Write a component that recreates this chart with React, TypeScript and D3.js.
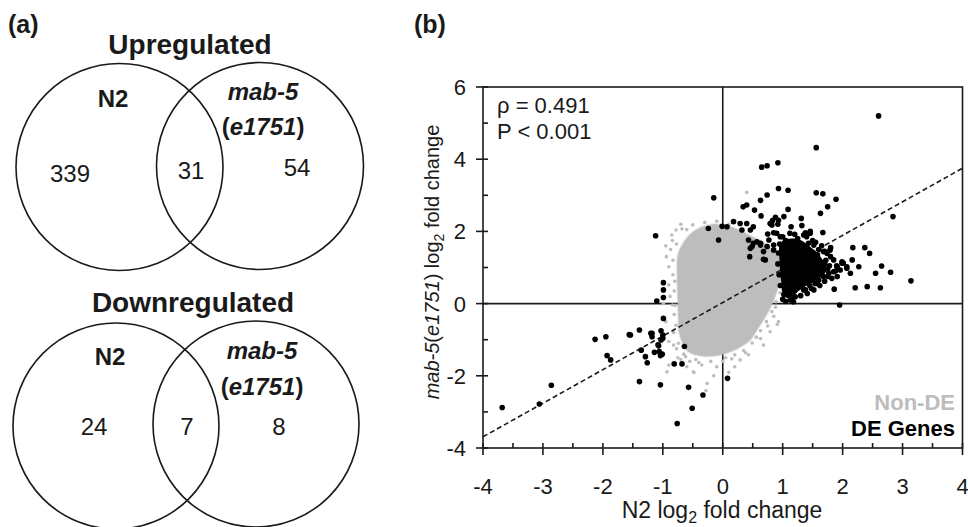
import React from "react";
import * as d3 from "d3";

// ---------- DATA ----------
const vennTitles = ["Upregulated", "Downregulated"];
const n2Only = [339, 24];
const sharedCounts = [31, 7];
const mabOnly = [54, 8];

const xTickValues = [-4, -3, -2, -1, 0, 1, 2, 3, 4];
const yTickValues = [-4, -2, 0, 2, 4, 6];
const rhoText = "ρ = 0.491";
const pText = "P < 0.001";
const legendLabels = ["Non-DE", "DE Genes"];

// regression line end points [x, y]
const regression: number[][] = [[-4, -3.69], [4, 3.75]];

// outline of the dense, solid part of the Non-DE cloud
const nonDeCore: number[][] = [
  [-0.15, 2.2], [0.13, 2.13], [0.46, 1.88], [0.74, 1.62], [0.96, 1.3], [0.99, 0.84], [0.91, 0.38],
  [0.8, -0.09], [0.68, -0.45], [0.57, -0.73], [0.46, -1.0], [0.29, -1.2], [0.07, -1.37],
  [-0.26, -1.46], [-0.58, -1.32], [-0.72, -0.85], [-0.74, -0.36], [-0.75, 0.19], [-0.76, 0.84],
  [-0.74, 1.39], [-0.58, 1.85], [-0.38, 2.1],
];

// Non-DE points outside the solid part
const nonDeGenes: number[][] = [
  [-0.78, 2.04], [-0.87, 1.5], [-0.84, 1.75], [-0.94, 1.3], [-0.68, 2.07], [-0.5, 2.18], [-0.3, 2.25],
  [-0.1, 2.28], [0.1, 2.2], [-0.9, 1.02], [-0.83, 0.8], [-0.9, 0.52], [-0.88, 0.2], [-0.84, -0.04],
  [-0.81, -0.3], [-0.95, -0.5], [-0.82, -0.8], [-0.9, -1.05], [-0.77, -1.25], [-0.9, -1.7],
  [-0.93, -1.89], [-0.75, -1.5], [-0.65, -1.4], [-0.49, -1.89], [-0.26, -2.21], [-0.28, -2.41],
  [-0.48, -1.91], [-0.55, -1.6], [-0.35, -1.7], [-0.1, -1.75], [-0.45, -1.55], [-0.2, -1.6],
  [0.0, -1.6], [0.29, -1.56], [0.1, -1.9], [-0.15, -2.0], [0.43, -1.42], [0.2, -1.42], [0.35, -1.3],
  [0.68, -1.15], [0.79, -0.78], [0.93, -0.5], [0.91, -0.58], [0.56, -0.93], [0.73, -0.5], [0.82, -0.22],
  [0.63, -0.75], [0.49, -1.09], [0.89, 0.05], [0.96, 0.3], [0.4, 3.08], [-0.95, 1.6], [-0.7, -1.55],
  [0.15, -1.53], [-0.6, -1.75], [0.2, -1.75], [0.85, -0.35], [-0.99, 0.0], [-0.7, 2.2],
  [-0.62, -1.47], [-0.4, -1.63], [0.05, -1.5], [0.38, -1.36], [0.63, -0.97], [0.75, -0.62],
  [0.88, -0.1], [0.99, 0.55], [-0.83, 1.2], [-0.81, 0.35], [-0.78, -0.6], [-0.82, -1.15], [-0.6, 2.05],
  [0.3, 2.05], [-0.85, 1.9], [-0.74, -1.1], [-0.8, 0.62], [-0.79, -0.05], [-0.77, 1.65],
];

// outline of the solid black cluster of DE genes
const deCore: number[][] = [
  [0.97, 1.7], [1.22, 1.8], [1.48, 1.55], [1.64, 1.28], [1.74, 0.95], [1.6, 0.68], [1.4, 0.5],
  [1.24, 0.32], [1.12, 0.14], [1.02, 0.22], [0.98, 0.55], [0.95, 1.1],
];

// DE genes (individual points)
const deGenes: number[][] = [
  [2.6, 5.2], [1.56, 4.32], [0.65, 3.78], [0.74, 3.82], [0.92, 3.9], [0.93, 3.19], [1.09, 3.14],
  [1.56, 3.07], [1.67, 3.04], [1.89, 2.89], [0.74, 3.01], [0.63, 2.86], [0.4, 2.73], [0.34, 2.68],
  [0.53, 2.59], [1.75, 2.68], [1.63, 2.5], [1.09, 2.61], [0.64, 2.43], [1.02, 2.41], [0.88, 2.39],
  [0.83, 2.3], [0.79, 2.22], [1.31, 2.36], [2.84, 2.41], [0.18, 2.27], [0.29, 2.22], [0.4, 2.22],
  [0.51, 2.13], [0.07, 2.13], [-0.01, 2.14], [0.92, 2.2], [1.14, 2.13], [1.32, 2.16], [1.38, 1.96],
  [1.46, 1.95], [1.67, 1.97], [0.75, 1.93], [0.85, 1.96], [2.17, 1.55], [2.37, 1.55], [2.45, 1.39],
  [2.65, 1.04], [0.45, 1.3], [0.68, 1.23], [2.63, 0.44], [2.41, 0.47], [2.21, 0.44], [1.86, 0.4],
  [2.8, 0.87], [2.55, 0.84], [2.27, 1.02], [2.16, 1.21], [2.07, 1.02], [2.01, 1.12], [1.96, 0.93],
  [1.91, 0.75], [3.14, 0.63], [1.95, -0.04], [-0.15, 2.93], [-0.07, 1.76], [-0.24, 2.08], [-1.12, 1.88],
  [0.43, 1.76], [0.51, 1.67], [0.63, 1.67], [0.74, 1.58], [0.85, 1.48], [0.49, 1.58],
  [0.82, 2.18], [0.93, 2.31], [1.46, 2.0], [1.52, 1.62], [1.68, 1.44], [1.74, 1.39], [1.85, 1.21],
  [1.99, 1.16], [2.07, 0.98], [1.63, 0.84], [1.68, 0.75], [1.77, 0.84], [1.57, 0.56], [1.52, 0.38],
  [1.35, 0.38], [1.41, 0.28], [1.21, 0.19], [1.13, 0.1], [1.1, 0.28], [0.63, 1.62], [0.68, 1.44],
  [0.71, 1.21], [0.46, 1.53], [0.57, 1.71], [0.85, 1.62], [0.77, 1.76], [0.9, 1.95], [0.96, 1.85],
  [1.43, 1.67], [1.79, 1.48], [1.54, 0.56], [1.38, 0.38], [1.16, 0.15], [1.11, 0.24], [1.05, 0.06],
  [1.7, 1.1], [1.75, 0.95], [1.8, 1.3], [1.6, 1.5], [1.55, 1.7], [1.25, 1.8], [1.05, 1.75],
  [0.95, 1.65], [0.93, 1.4], [0.92, 1.1], [0.94, 0.8], [0.96, 0.5], [1.02, 0.25], [1.2, 0.35],
  [1.3, 0.5], [1.45, 0.5], [1.6, 0.65], [1.7, 0.62], [1.88, 0.9], [1.9, 1.05], [1.82, 0.7],
  [1.65, 1.6], [1.4, 1.85], [1.12, 1.95],
  [1.85, 0.88], [1.91, 1.02], [1.99, 1.12], [2.13, 0.84], [1.8, 1.55], [1.7, 1.45], [1.62, 0.5],
  [1.48, 0.42], [1.3, 0.22], [1.18, 0.05], [1.0, 0.12], [1.03, 0.4], [1.75, 0.75], [1.72, 1.2],
  [1.5, 1.75], [1.35, 1.9], [1.2, 1.92], [1.0, 1.85], [0.32, 2.04], [0.46, 2.04], [1.78, 1.05],
  [1.66, 1.0], [1.58, 1.35], [1.36, 0.6], [1.15, 0.45],
  [-0.99, 0.58], [-0.99, 0.38], [-0.99, 0.17], [-1.1, 0.07], [-0.99, -0.41], [-1.39, -0.73],
  [-1.54, -0.87], [-1.95, -0.92], [-2.13, -0.99], [-1.18, -0.82], [-1.18, -0.92], [-1.03, -0.75],
  [-1.0, -0.87], [-1.03, -1.01], [-1.07, -1.17], [-1.36, -1.29], [-1.14, -1.35], [-1.06, -1.33],
  [-1.04, -1.44], [-1.01, -1.4], [-1.29, -1.47], [-1.26, -1.64], [-1.93, -1.44], [-1.87, -1.56],
  [-0.64, -1.19], [-0.81, -1.67], [-0.68, -1.67], [-1.39, -2.16], [-1.04, -2.25], [-0.57, -2.32],
  [-0.33, -2.53], [-0.51, -2.9], [-0.76, -3.32], [0.08, -2.07], [-3.68, -2.88], [-3.06, -2.78],
  [-2.86, -2.26], [-1.56, -0.86], [-1.2, -0.82], [-1.0, -0.96], [-1.08, -1.14],
];

// ---------- LAYOUT ----------
const FONT = "'Liberation Sans', Arial, Helvetica, sans-serif";
const GREY = "#bdbdbd";
const INK = "#1a1a1a";

const vennLayouts = [
  { c1: [119.5, 167], c2: [260, 166], r: 103.5, title: [190, 54], n2: [113, 107], mab: [263, 100], e: [263, 135], nums: [[70, 182], [191, 179], [297, 176]] },
  { c1: [116, 426], c2: [256, 424], r: 103, title: [193, 312], n2: [110, 365], mab: [262, 359], e: [262, 395], nums: [[94, 435], [187, 435], [279, 435]] },
];

function Venn({ i }: { i: number }) {
  const L = vennLayouts[i];
  const counts = [n2Only[i], sharedCounts[i], mabOnly[i]];
  return (
    <g>
      <circle cx={L.c1[0]} cy={L.c1[1]} r={L.r} fill="none" stroke={INK} strokeWidth={1.6} />
      <circle cx={L.c2[0]} cy={L.c2[1]} r={L.r} fill="none" stroke={INK} strokeWidth={1.6} />
      <text x={L.title[0]} y={L.title[1]} textAnchor="middle" fontWeight="bold" fontSize={28} fill={INK}>{vennTitles[i]}</text>
      <text x={L.n2[0]} y={L.n2[1]} textAnchor="middle" fontWeight="bold" fontSize={24} fill={INK}>N2</text>
      <text x={L.mab[0]} y={L.mab[1]} textAnchor="middle" fontWeight="bold" fontStyle="italic" fontSize={24} fill={INK}>mab-5</text>
      <text x={L.e[0]} y={L.e[1]} textAnchor="middle" fontWeight="bold" fontSize={24} fill={INK}>
        (<tspan fontStyle="italic">e1751</tspan>)
      </text>
      {counts.map((c, k) => (
        <text key={k} x={L.nums[k][0]} y={L.nums[k][1]} textAnchor="middle" fontSize={24} fill={INK}>{c}</text>
      ))}
    </g>
  );
}

export default function App() {
  const x = d3.scaleLinear().domain([-4, 4]).range([483, 962.5]);
  const y = d3.scaleLinear().domain([-4, 6]).range([448, 87]);
  const line = d3.line<number[]>().x((d) => x(d[0])).y((d) => y(d[1]));
  const blob = d3.line<number[]>().x((d) => x(d[0])).y((d) => y(d[1])).curve(d3.curveCatmullRomClosed.alpha(0.5));
  const xMinor = x.ticks(16).filter((t) => !xTickValues.includes(t));
  const yMinor = y.ticks(10).filter((t) => !yTickValues.includes(t));
  const x0 = x(-4), x1 = x(4), y0 = y(-4), y1 = y(6);

  return (
    <svg width={968} height={527} style={{ position: "absolute", left: 0, top: 0, background: "#fff" }} fontFamily={FONT}>
      <defs>
        <filter id="soft" x="-10%" y="-10%" width="120%" height="120%">
          <feGaussianBlur stdDeviation={1.2} />
        </filter>
      </defs>
      <rect x={0} y={0} width={968} height={527} fill="#fff" />
      {/* panel labels */}
      <text x={8} y={33} fontWeight="bold" fontSize={25} fill={INK}>(a)</text>
      <text x={414} y={33} fontWeight="bold" fontSize={25} fill={INK}>(b)</text>

      <Venn i={0} />
      <Venn i={1} />

      {/* panel b */}
      <line x1={x0} x2={x1} y1={y(0)} y2={y(0)} stroke={INK} strokeWidth={1.6} />
      <line x1={x(0)} x2={x(0)} y1={y0} y2={y1} stroke={INK} strokeWidth={1.6} />
      <path d={blob(nonDeCore) || ""} fill={GREY} filter="url(#soft)" />
      <path d={blob(nonDeCore) || ""} fill={GREY} opacity={0.9} />
      {nonDeGenes.map((d, k) => (
        <circle key={"g" + k} cx={x(d[0])} cy={y(d[1])} r={1.8} fill={GREY} />
      ))}
      <path d={line(regression) || ""} stroke={INK} strokeWidth={1.6} strokeDasharray="5,3" fill="none" />
      <path d={blob(deCore) || ""} fill="#000" />
      {deGenes.map((d, k) => (
        <circle key={"b" + k} cx={x(d[0])} cy={y(d[1])} r={2.8} fill="#000" />
      ))}
      <rect x={x0} y={y1} width={x1 - x0} height={y0 - y1} fill="none" stroke={INK} strokeWidth={1.6} />

      {/* x ticks */}
      {xTickValues.map((t) => (
        <g key={"xt" + t}>
          <line x1={x(t)} x2={x(t)} y1={y0 - 5} y2={y0 + 7} stroke={INK} strokeWidth={1.6} />
          <text x={x(t)} y={494} textAnchor="middle" fontSize={22} fill={INK}>{t}</text>
        </g>
      ))}
      {xMinor.map((t) => (
        <line key={"xm" + t} x1={x(t)} x2={x(t)} y1={y0 - 5} y2={y0} stroke={INK} strokeWidth={1.6} />
      ))}
      {/* y ticks */}
      {yTickValues.map((t) => (
        <g key={"yt" + t}>
          <line x1={x0 - 7} x2={x0 + 5} y1={y(t)} y2={y(t)} stroke={INK} strokeWidth={1.6} />
          <text x={466} y={y(t)} dy="0.36em" textAnchor="end" fontSize={22} fill={INK}>{t}</text>
        </g>
      ))}
      {yMinor.map((t) => (
        <line key={"ym" + t} x1={x0} x2={x0 + 5} y1={y(t)} y2={y(t)} stroke={INK} strokeWidth={1.6} />
      ))}

      {/* axis titles */}
      <text x={722} y={518} textAnchor="middle" fontSize={23} fill={INK}>
        N2 log<tspan dy={5} fontSize={16}>2</tspan><tspan dy={-5}> fold change</tspan>
      </text>
      <text transform="translate(439,262) rotate(-90)" textAnchor="middle" fontSize={20} fill={INK}>
        <tspan fontStyle="italic">mab-5</tspan>(<tspan fontStyle="italic">e1751</tspan>) log<tspan dy={5} fontSize={14}>2</tspan><tspan dy={-5}> fold change</tspan>
      </text>

      {/* annotation */}
      <text x={497} y={113} fontSize={22} fill={INK}>{rhoText}</text>
      <text x={497} y={139} fontSize={22} fill={INK}>{pText}</text>

      {/* legend */}
      <text x={955} y={410} textAnchor="end" fontWeight="bold" fontSize={22} fill={GREY}>{legendLabels[0]}</text>
      <text x={955} y={436} textAnchor="end" fontWeight="bold" fontSize={22} fill="#000">{legendLabels[1]}</text>
    </svg>
  );
}
